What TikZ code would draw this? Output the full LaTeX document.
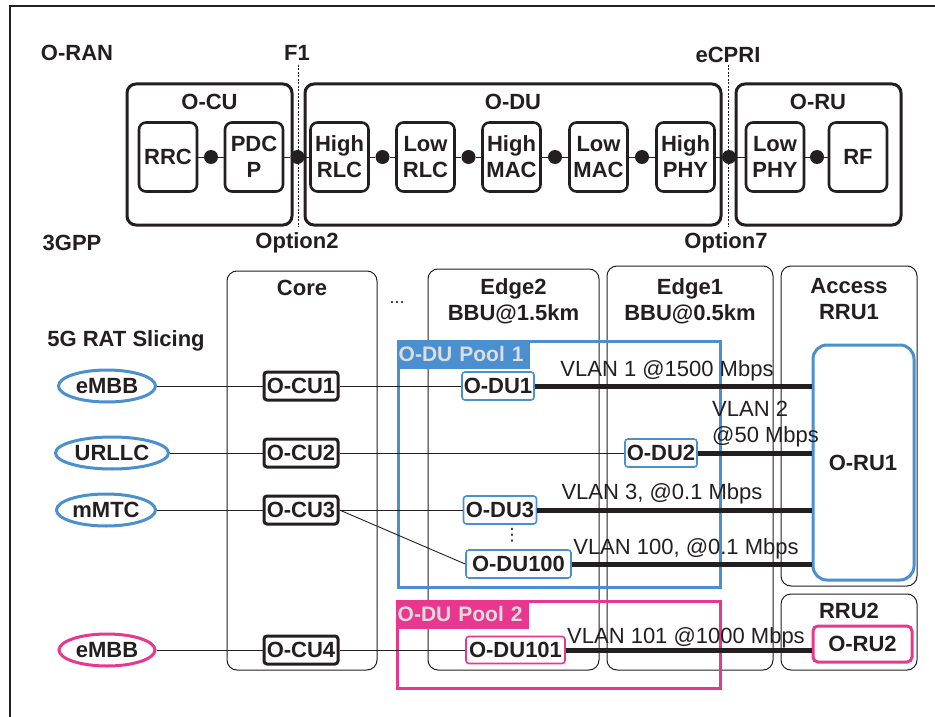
\documentclass[tikz,border=0pt]{standalone}
\usepackage{fontspec}
\setmainfont{Liberation Sans}
\newfontfamily\dejavu{DejaVu Sans}
\usetikzlibrary{shapes.geometric}
\definecolor{oblue}{RGB}{74,143,208}
\definecolor{opink}{RGB}{233,55,144}
\definecolor{olight}{RGB}{221,221,221}
\definecolor{ink}{RGB}{35,31,32}
\newcommand\myfs[2]{\fontsize{#1}{#2}\selectfont}
\begin{document}
\begin{tikzpicture}[x=1pt,y=-1pt,
  every node/.style={inner sep=0pt,text=ink},
  bf/.style={font=\myfs{22}{26}\bfseries,align=center},
  bigbox/.style={draw=ink,line width=3pt,rounded corners=9pt},
  fnbox/.style={draw=ink,line width=2.6pt,rounded corners=7pt,minimum width=58pt,minimum height=69pt,bf},
  jdot/.style={circle,fill=ink,minimum size=14pt},
  thinln/.style={draw=ink,line width=0.9pt},
  cutline/.style={draw=ink,line width=0.8pt,dash pattern=on 2pt off 1.5pt},
  colbox/.style={draw=ink,line width=1pt,rounded corners=10pt},
  cubox/.style={draw=ink,line width=3pt,rounded corners=3pt,fill=white,minimum width=74pt,minimum height=28pt,bf},
  dubox/.style={draw=oblue,line width=1.6pt,rounded corners=3pt,fill=white,minimum height=28pt,bf},
  slice/.style={ellipse,draw=oblue,line width=3pt,minimum height=32pt,bf},
  pool/.style={draw=oblue,line width=3pt},
  poollbl/.style={fill=oblue,text=olight,anchor=north west,text width=129pt,inner xsep=2pt,minimum height=29pt,align=left,font=\myfs{21}{26}\bfseries},
  thickln/.style={draw=ink,line width=5pt},
  vlan/.style={font=\myfs{22}{26}\selectfont}
]
\useasboundingbox (0,0) rectangle (935,717);
% frame
\coordinate (fa) at (10,6);
\coordinate (fb) at (935,6);
\coordinate (fc) at (10,717);
\draw[ink,line width=1.2pt] (fb) -- (fa) -- (fc);

% ---------- top part ----------
\node[bf] (oran) at (77,53) {O-RAN};
\node[bf] (f1) at (297,53) {F1};
\node[bf] (ecpri) at (728,55) {eCPRI};
\node[bf] (tgpp) at (72,243) {3GPP};
\node[bf] (opt2) at (297,243) {Option2};
\node[bf] (opt7) at (726,243) {Option7};

\node[bigbox,minimum width=165pt,minimum height=141pt] (ocu) at (209.5,154.5) {};
\node[bigbox,minimum width=416pt,minimum height=141pt] (odu) at (513,154.5) {};
\node[bigbox,minimum width=165pt,minimum height=141pt] (oru) at (818.5,154.5) {};
\node[bf] (ocul) at (209.5,102) {O-CU};
\node[bf] (odul) at (513,102) {O-DU};
\node[bf] (orul) at (818,102) {O-RU};

\coordinate (c2t) at (298,65);
\coordinate (c2b) at (298,227);
\coordinate (c7t) at (728,65);
\coordinate (c7b) at (728,227);
\draw[cutline] (c2t) -- (c2b);
\draw[cutline] (c7t) -- (c7b);

\node[fnbox] (rrc) at (168,157) {RRC};
\node[fnbox] (pdcp) at (254,157) {PDC\\P};
\node[fnbox] (hrlc) at (339.5,157) {High\\RLC};
\node[fnbox] (lrlc) at (425.5,157) {Low\\RLC};
\node[fnbox] (hmac) at (511.5,157) {High\\MAC};
\node[fnbox] (lmac) at (598.5,157) {Low\\MAC};
\node[fnbox] (hphy) at (685.5,157) {High\\PHY};
\node[fnbox] (lphy) at (775,157) {Low\\PHY};
\node[fnbox] (rf) at (858,157) {RF};

\node[jdot] (j1) at (211,157) {};
\node[jdot] (j2) at (297.5,157) {};
\node[jdot] (j3) at (382.5,157) {};
\node[jdot] (j4) at (468.5,157) {};
\node[jdot] (j5) at (555,157) {};
\node[jdot] (j6) at (642,157) {};
\node[jdot] (j7) at (729,157) {};
\node[jdot] (j8) at (817,157) {};
\draw[thinln] (rrc) -- (j1) -- (pdcp);
\draw[thinln] (pdcp) -- (j2) -- (hrlc);
\draw[thinln] (hrlc) -- (j3) -- (lrlc);
\draw[thinln] (lrlc) -- (j4) -- (hmac);
\draw[thinln] (hmac) -- (j5) -- (lmac);
\draw[thinln] (lmac) -- (j6) -- (hphy);
\draw[thinln] (hphy) -- (j7) -- (lphy);
\draw[thinln] (lphy) -- (j8) -- (rf);

% ---------- bottom part ----------
\node[colbox,minimum width=150pt,minimum height=399pt] (core) at (302,470.5) {};
\node[colbox,minimum width=171pt,minimum height=401pt] (edge2) at (513.5,469.5) {};
\node[colbox,minimum width=166pt,minimum height=404pt] (edge1) at (690,468) {};
\node[colbox,minimum width=136pt,minimum height=320pt] (access) at (849,426) {};
\node[colbox,minimum width=136pt,minimum height=76pt] (rru2) at (849,632) {};

\node[bf] (corel) at (302,288) {Core};
\node[font=\myfs{18}{20}\selectfont] (gap) at (397,303) {...};
\node[bf] (edge2l) at (513.5,301) {Edge2\\BBU@1.5km};
\node[bf] (edge1l) at (690,301) {Edge1\\BBU@0.5km};
\node[bf] (accessl) at (849,299) {Access\\RRU1};
\node[bf] (rru2l) at (849,611) {RRU2};
\node[bf] (slicing) at (126,341) {5G RAT Slicing};

% pools
\node[pool,minimum width=322pt,minimum height=246pt] (pool1) at (559,464) {};
\node[poollbl] (pool1l) at (pool1.north west) {O-DU Pool 1};
\node[pool,draw=opink,minimum width=323pt,minimum height=87pt] (pool2) at (558.5,644.5) {};
\node[poollbl,fill=opink] (pool2l) at (pool2.north west) {O-DU Pool 2};

% radio units
\node[draw=oblue,line width=3pt,rounded corners=14pt,minimum width=101pt,minimum height=235pt] (oru1) at (863.5,462.5) {};
\node[bf] (oru1l) at (863,463) {O-RU1};
\node[draw=opink,line width=3pt,rounded corners=5pt,minimum width=99pt,minimum height=36pt,bf] (oru2) at (862.5,644) {O-RU2};

% slices
\node[slice,minimum width=97pt] (s1) at (107,386) {eMBB};
\node[slice,minimum width=113pt] (s2) at (112,453) {URLLC};
\node[slice,minimum width=99pt] (s3) at (106,510) {mMTC};
\node[slice,draw=opink,minimum width=96pt] (s4) at (107,650) {eMBB};

% O-CUs
\node[cubox] (cu1) at (301,386) {O-CU1};
\node[cubox] (cu2) at (301,453) {O-CU2};
\node[cubox] (cu3) at (301,510) {O-CU3};
\node[cubox] (cu4) at (301,650) {O-CU4};

% O-DUs
\node[dubox,minimum width=72pt] (du1) at (498,386) {O-DU1};
\node[dubox,minimum width=72pt] (du2) at (661,453) {O-DU2};
\node[dubox,minimum width=73pt] (du3) at (500,510) {O-DU3};
\node[font=\dejavu\myfs{17}{18}] (vd) at (512,535) {⋮};
\node[dubox,minimum width=105pt] (du100) at (518.5,564) {O-DU100};
\node[dubox,draw=opink,minimum width=99pt,minimum height=27pt] (du101) at (515.5,650) {O-DU101};

% thin connectors
\draw[thinln] (s1) -- (cu1) -- (du1);
\draw[thinln] (s2) -- (cu2) -- (du2);
\draw[thinln] (s3) -- (cu3) -- (du3);
\draw[thinln] (cu3.east) -- (du100.west);
\draw[thinln] (s4) -- (cu4) -- (du101);

% thick VLAN links
\draw[thickln] (du1.east) -- (du1.east -| oru1.west);
\draw[thickln] (du2.east) -- (du2.east -| oru1.west);
\draw[thickln] (du3.east) -- (du3.east -| oru1.west);
\draw[thickln] (du100.east) -- (du100.east -| oru1.west);
\draw[thickln] (du101.east) -- (du101.east -| oru2.west);

% VLAN labels
\node[vlan] (v1) at (667,371) {VLAN 1 @1500 Mbps};
\node[vlan,anchor=west,align=left] (v2) at (712,424) {VLAN 2\\@50 Mbps};
\node[vlan] (v3) at (662,494) {VLAN 3, @0.1 Mbps};
\node[vlan] (v100) at (686,549) {VLAN 100, @0.1 Mbps};
\node[vlan] (v101) at (686,638) {VLAN 101 @1000 Mbps};
\end{tikzpicture}
\end{document}
